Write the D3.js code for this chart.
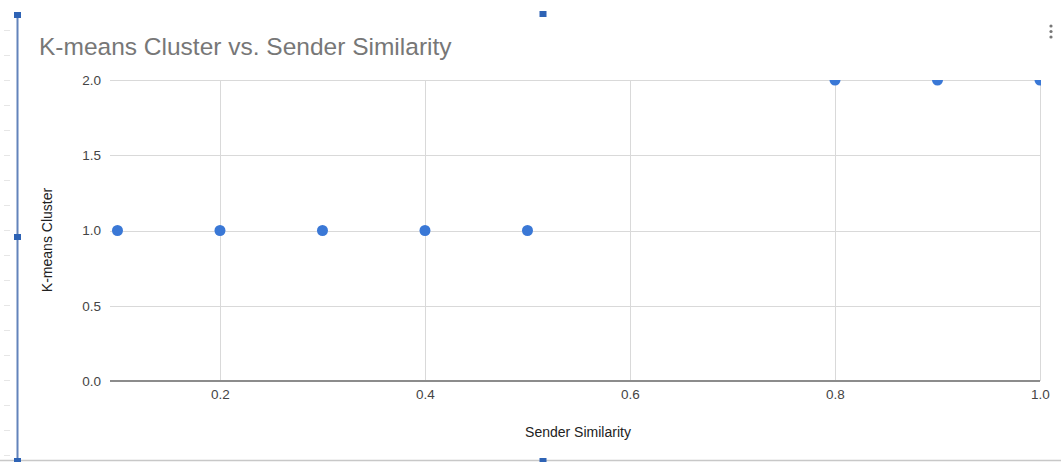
<!DOCTYPE html>
<html>
<head>
<meta charset="utf-8">
<script src="https://cdn.jsdelivr.net/npm/d3@7"></script>
<style>
  html, body { margin: 0; padding: 0; background: #fff; }
  svg { display: block; font-family: "Liberation Sans", Arial, sans-serif; }
</style>
</head>
<body>
<svg id="chart" width="1061" height="462"></svg>
<script>
// Sender similarity vs. assigned K-means cluster
const senderSimilarity = [0.1, 0.2, 0.3, 0.4, 0.5, 0.8, 0.9, 1.0];
const kmeansCluster    = [1, 1, 1, 1, 1, 2, 2, 2];
const xTicks = [0.2, 0.4, 0.6, 0.8, 1.0];
const yTicks = [0.0, 0.5, 1.0, 1.5, 2.0];

const titleText = "K-means Cluster vs. Sender Similarity";
const xTitle = "Sender Similarity";
const yTitle = "K-means Cluster";

const FONT = "'Liberation Sans', Arial, sans-serif";
const svg = d3.select("#chart");
const W = 1061, H = 462;
const plot = { left: 110, right: 1040, top: 80, bottom: 381 };

const x = d3.scaleLinear().domain([0.0927, 1.0]).range([plot.left, plot.right]);
const y = d3.scaleLinear().domain([0, 2]).range([plot.bottom, plot.top]);

// Editor selection frame around the embedded chart
const frame = svg.append("g");
frame.append("line").attr("x1", 0).attr("x2", W).attr("y1", 460.5).attr("y2", 460.5)
  .attr("stroke", "#c8c8c8").attr("stroke-width", 1.5);
frame.selectAll("line.ruler").data(d3.range(30, 460, 25)).join("line")
  .attr("class", "ruler")
  .attr("x1", 4).attr("x2", 10).attr("y1", d => d + 0.5).attr("y2", d => d + 0.5)
  .attr("stroke", "#e6e6e6").attr("stroke-width", 1);
frame.append("line").attr("x1", 17.5).attr("x2", 17.5).attr("y1", 14).attr("y2", 462)
  .attr("stroke", "#6383bb").attr("stroke-width", 2);
const handles = [[17.5, 15], [17.5, 237], [17.5, 461], [543, 14], [543, 461]];
frame.selectAll("rect.handle").data(handles).join("rect")
  .attr("class", "handle")
  .attr("x", d => d[0] - 3.5).attr("y", d => d[1] - 3).attr("width", 7).attr("height", 6)
  .attr("fill", "#2e63b5");

// Overflow menu dots
svg.selectAll("circle.menu").data([26, 31.5, 37]).join("circle")
  .attr("class", "menu").attr("cx", 1051).attr("cy", d => d).attr("r", 1.6)
  .attr("fill", "#777");

// Title
svg.append("text").attr("x", 39).attr("y", 55).attr("font-family", FONT)
  .attr("font-size", 24.5).attr("fill", "#777").text(titleText);

// Gridlines
const grid = svg.append("g");
grid.selectAll("line.h").data(yTicks.filter(d => d > 0)).join("line")
  .attr("class", "h")
  .attr("x1", plot.left).attr("x2", plot.right)
  .attr("y1", d => Math.round(y(d)) + 0.5).attr("y2", d => Math.round(y(d)) + 0.5)
  .attr("stroke", "#d9d9d9").attr("stroke-width", 1);
grid.selectAll("line.v").data(xTicks).join("line")
  .attr("class", "v")
  .attr("y1", plot.top).attr("y2", plot.bottom)
  .attr("x1", d => Math.round(x(d)) + 0.5).attr("x2", d => Math.round(x(d)) + 0.5)
  .attr("stroke", "#d9d9d9").attr("stroke-width", 1);

// Baseline
svg.append("line").attr("x1", plot.left).attr("x2", plot.right)
  .attr("y1", y(0)).attr("y2", y(0))
  .attr("stroke", "#8c8c8c").attr("stroke-width", 2);

// Axes (labels only)
const yAxis = svg.append("g").attr("transform", `translate(${plot.left - 9},0)`)
  .call(d3.axisLeft(y).tickValues(yTicks).tickFormat(d3.format(".1f")).tickSize(0).tickPadding(0));
const xAxis = svg.append("g").attr("transform", `translate(0,${plot.bottom + 7})`)
  .call(d3.axisBottom(x).tickValues(xTicks).tickFormat(d3.format(".1f")).tickSize(0).tickPadding(0));
[xAxis, yAxis].forEach(a => {
  a.select(".domain").remove();
  a.selectAll("text").attr("font-size", 13.5).attr("fill", "#444")
    .attr("font-family", FONT);
});
xAxis.selectAll("text").attr("dy", "0.85em");

// Axis titles
svg.append("text").attr("x", 578).attr("y", 437).attr("font-family", FONT)
  .attr("text-anchor", "middle").attr("font-size", 14).attr("fill", "#222").text(xTitle);
svg.append("text").attr("transform", `translate(52,240) rotate(-90)`).attr("font-family", FONT)
  .attr("text-anchor", "middle").attr("font-size", 14).attr("fill", "#222").text(yTitle);

// Points, clipped to the plot area
svg.append("clipPath").attr("id", "plotClip").append("rect")
  .attr("x", plot.left).attr("y", plot.top)
  .attr("width", plot.right - plot.left + 1).attr("height", plot.bottom - plot.top);
svg.append("g").attr("clip-path", "url(#plotClip)")
  .selectAll("circle").data(senderSimilarity.map((s, i) => ({ s, k: kmeansCluster[i] })))
  .join("circle")
  .attr("cx", d => x(d.s)).attr("cy", d => y(d.k)).attr("r", 5.5)
  .attr("fill", "#3a78d6");
</script>
</body>
</html>
